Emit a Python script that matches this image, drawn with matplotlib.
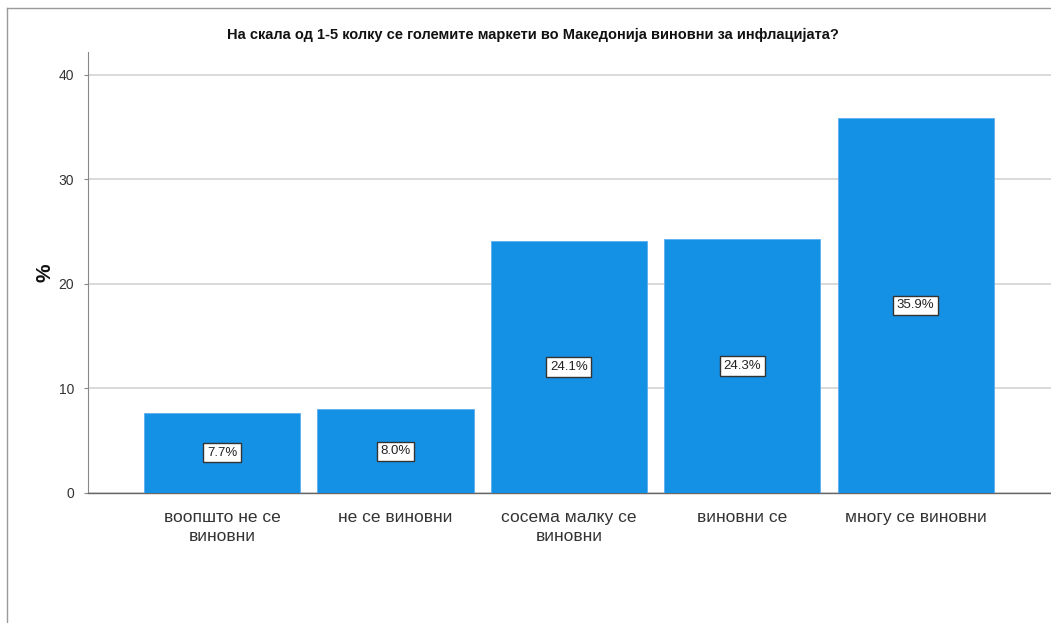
import numpy as np
import matplotlib
matplotlib.use('Agg')
import matplotlib.pyplot as plt
from matplotlib.lines import Line2D

plt.rcParams['font.family'] = ['Liberation Sans', 'DejaVu Sans']

categories = ['воопшто не се\nвиновни', 'не се виновни', 'сосема малку се\nвиновни',
              'виновни се', 'многу се виновни']
percents = [7.7, 8.0, 24.1, 24.3, 35.9]
yticks = [0, 10, 20, 30, 40]
title = 'На скала од 1-5 колку се големите маркети во Македонија виновни за инфлацијата?'

W, H = 1051, 623
fig = plt.figure(figsize=(W / 100, H / 100), dpi=100)
ax = fig.add_axes([88 / W, 1 - 493 / H, (W - 88) / W, (493 - 52) / H])

x = np.arange(len(categories))
ax.bar(x, percents, width=0.9, color='#1490e4', edgecolor='#5aaef0', linewidth=0.6, zorder=3)

for xi, v in zip(x, percents):
    ax.text(xi, v / 2, f'{v:.1f}%', ha='center', va='center', fontsize=9.5, color='#222222',
            zorder=4, bbox=dict(boxstyle='square,pad=0.28', fc='white', ec='#333333', lw=1.0))

ax.set_xlim(-0.773, 4.78)
ax.set_ylim(0, 42.2)
ax.set_yticks(yticks)
ax.set_xticks(x)
ax.set_xticklabels(categories, fontsize=12.5, color='#333333', linespacing=1.4)
ax.tick_params(axis='x', length=0, pad=12)
ax.tick_params(axis='y', length=3, color='#888888', labelsize=10, labelcolor='#333333', pad=7)
ax.yaxis.grid(True, color='#d3d3d3', linewidth=1.2, zorder=0)
ax.set_axisbelow(True)

for s in ['top', 'right']:
    ax.spines[s].set_visible(False)
ax.spines['left'].set_color('#888888')
ax.spines['bottom'].set_color('#666666')
ax.spines['bottom'].set_linewidth(1.0)

ax.set_ylabel('%', fontsize=15, fontweight='bold', color='#111111', labelpad=3)

fig.text(533 / W, 1 - 35 / H, title, ha='center', va='center', fontsize=10.5,
         fontweight='bold', color='#111111')

# outer frame lines
fig.add_artist(Line2D([7 / W, 7 / W], [0, 1 - 8 / H], color='#9a9a9a', lw=1.0))
fig.add_artist(Line2D([7 / W, 1], [1 - 8 / H, 1 - 8 / H], color='#9a9a9a', lw=1.0))

fig.savefig('out.png', dpi=100, facecolor='white')
